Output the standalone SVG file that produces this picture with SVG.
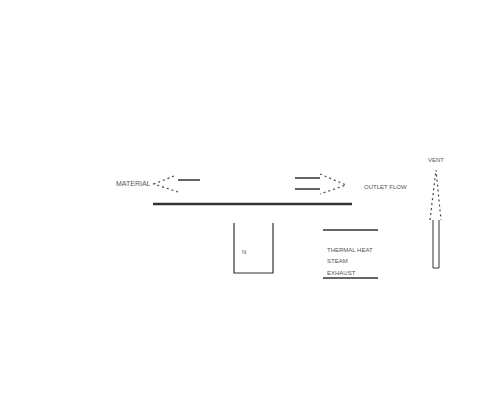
<svg xmlns="http://www.w3.org/2000/svg" width="493" height="403" viewBox="0 0 493 403">
<style>
.ln{stroke:#333;fill:none}
.th{stroke-width:2.5}
.md{stroke-width:1.5}
.ds{stroke:#444;fill:none;stroke-width:1.2;stroke-dasharray:2 3}
.t{font-family:"Liberation Sans",Arial,sans-serif;font-size:6px;fill:#555}
</style>
<rect width="493" height="403" fill="#fff"/>
<g id="connectors">
<line class="ln th" x1="153" y1="204" x2="352" y2="204"/>
<line class="ln md" x1="178" y1="180" x2="200" y2="180"/>
<polyline class="ds" points="174,176 154,184 178,192"/>
<line class="ln md" x1="295" y1="178" x2="320" y2="178"/>
<line class="ln md" x1="295" y1="189" x2="320" y2="189"/>
<polyline class="ds" points="320,174 346,185 320,194"/>
<polyline class="ds" points="430,220 436,170 441,220"/>
<polyline class="ln" style="stroke-width:1" points="433,220 433,268 439,268 439,220"/>
<line class="ln md" x1="323" y1="230" x2="378" y2="230"/>
<line class="ln md" x1="323" y1="278" x2="378" y2="278"/>
</g>
<g id="node-left"><text class="t" x="116" y="186" style="font-size:7px">MATERIAL</text></g>
<g id="node-right"><text class="t" x="364" y="189">OUTLET FLOW</text></g>
<g id="node-vent"><text class="t" x="428" y="162">VENT</text></g>
<g id="node-box">
<polyline class="ln" style="stroke-width:1.2" points="234,223 234,273 273,273 273,223"/>
<text class="t" x="242" y="254">N</text>
</g>
<g id="node-notes">
<text class="t" x="327" y="252">THERMAL HEAT</text>
<text class="t" x="327" y="263">STEAM</text>
<text class="t" x="327" y="275">EXHAUST</text>
</g>
</svg>
